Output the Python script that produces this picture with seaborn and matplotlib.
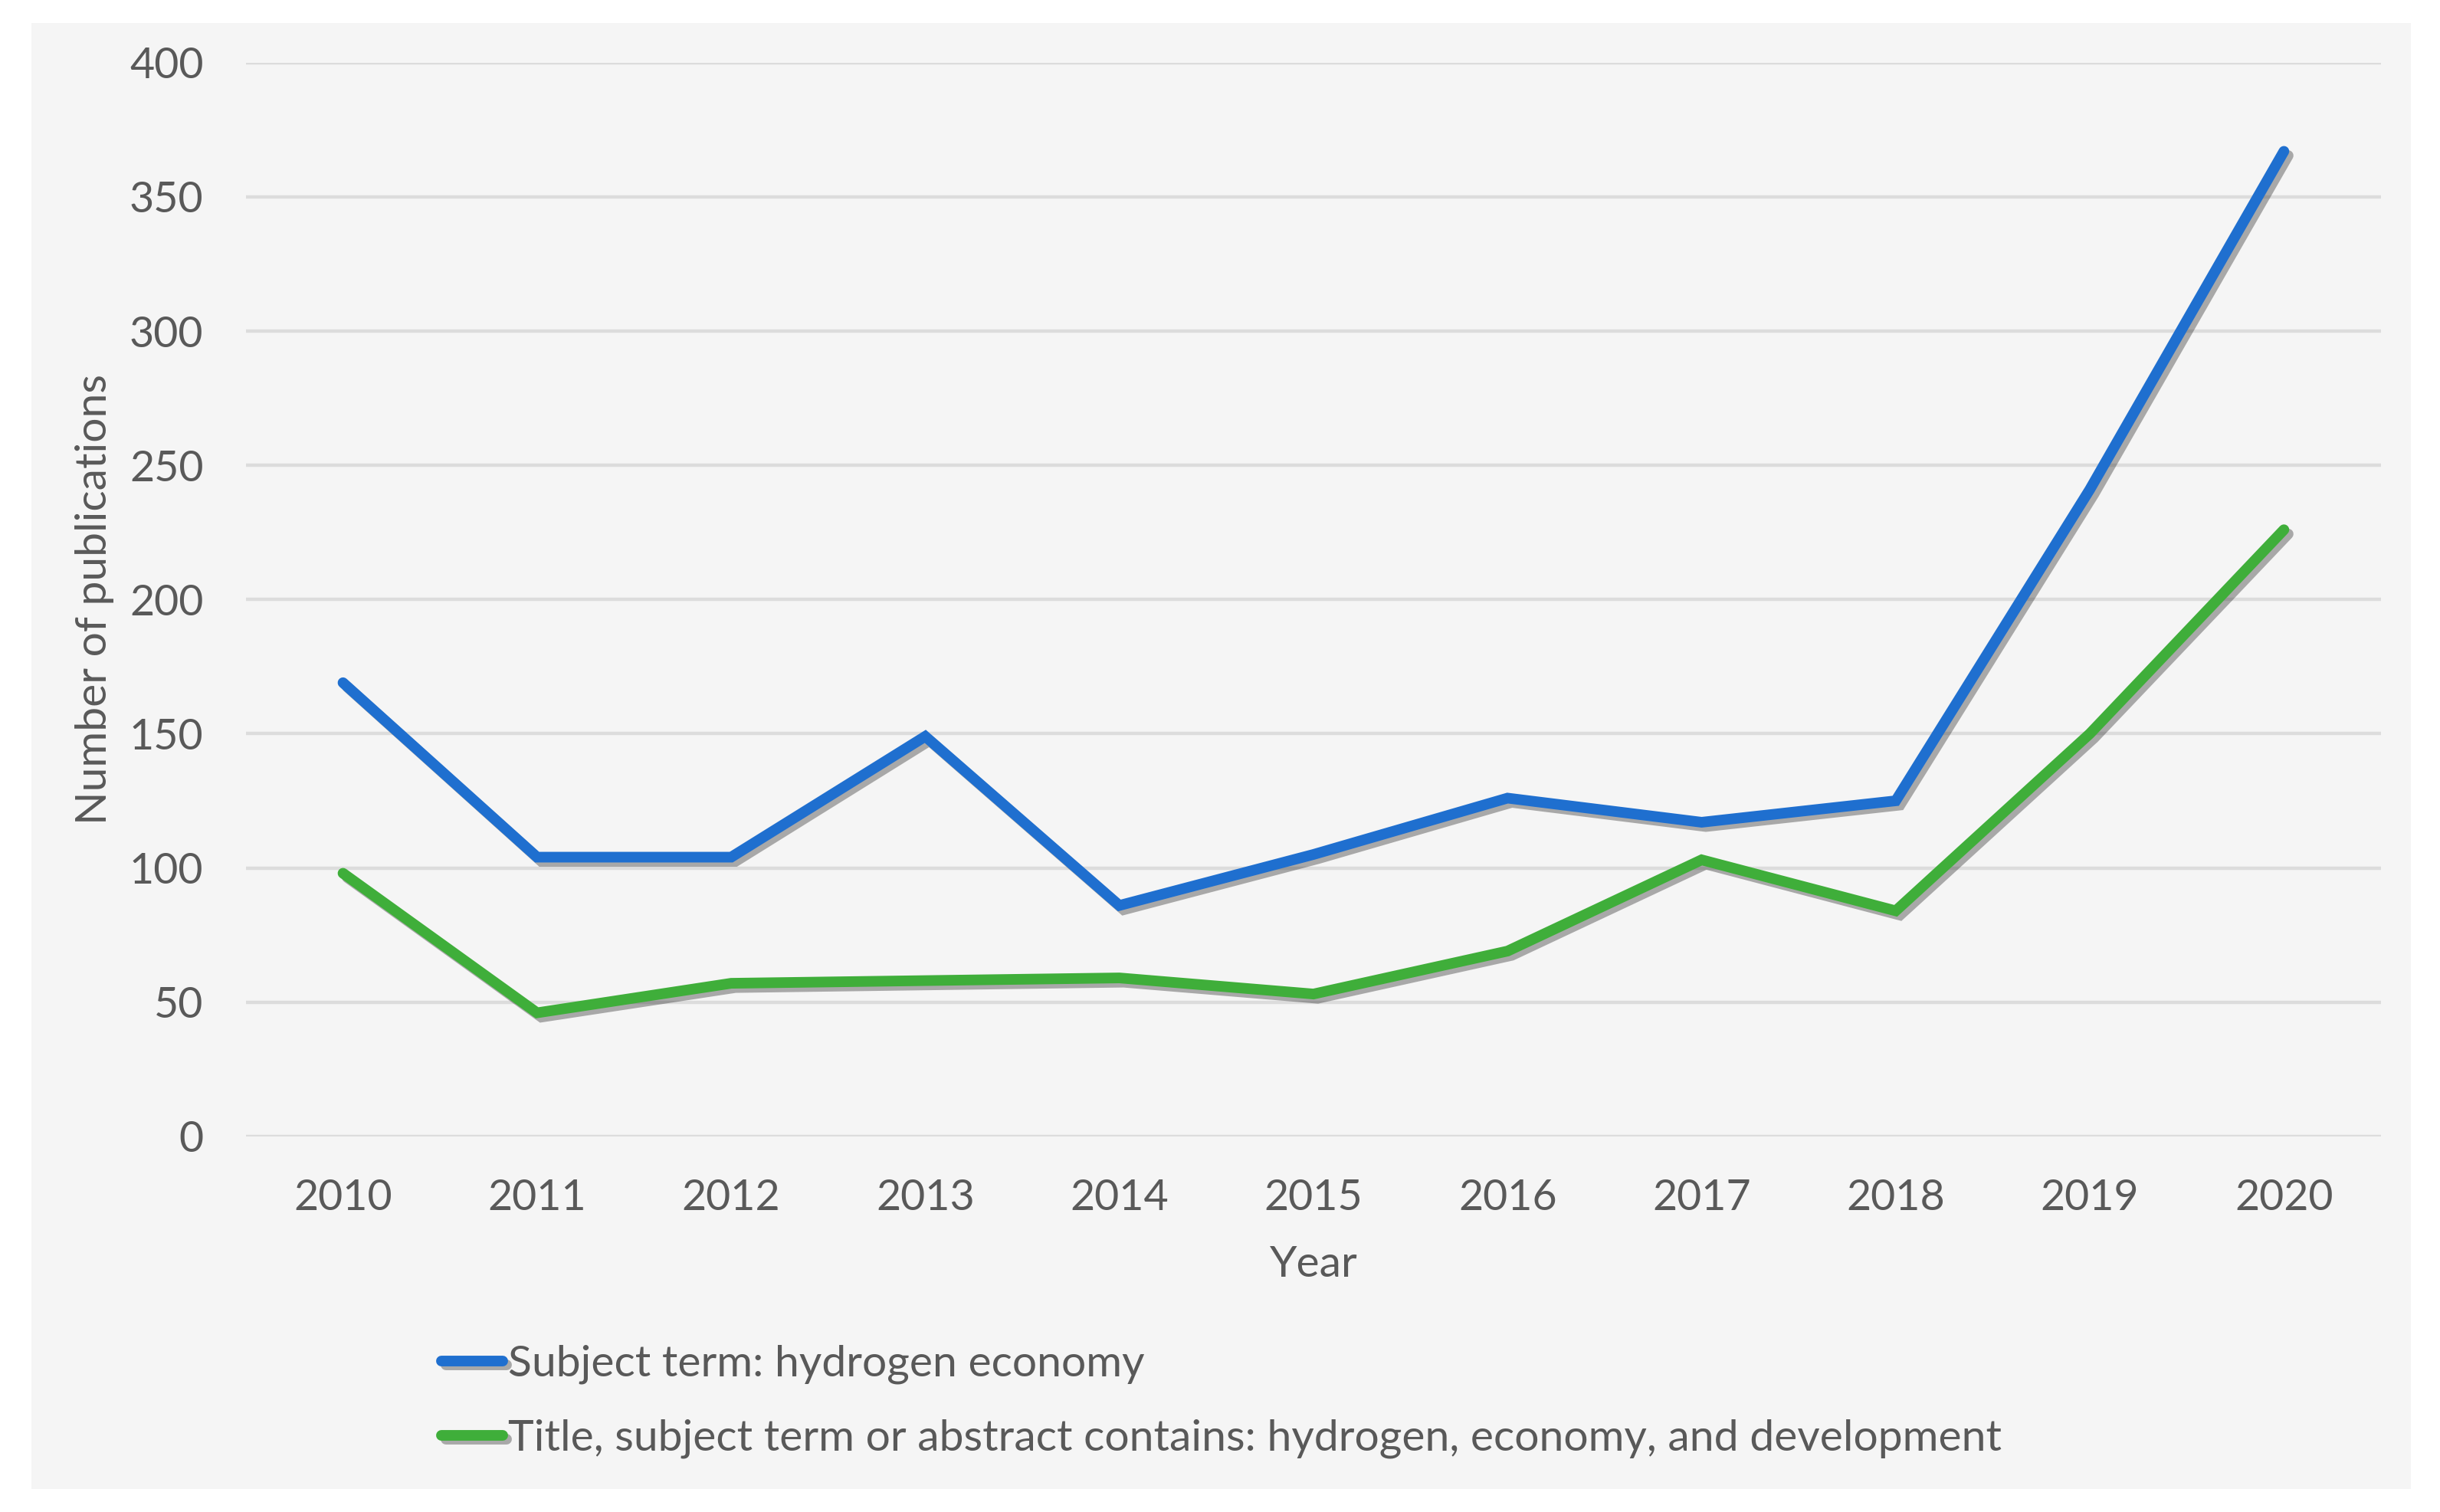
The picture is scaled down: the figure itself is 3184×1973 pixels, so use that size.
import matplotlib
matplotlib.use("Agg")
import matplotlib.pyplot as plt
import matplotlib.patheffects as pe
from matplotlib.patches import Rectangle
import pandas as pd
import seaborn as sns

YEARS = [2010, 2011, 2012, 2013, 2014, 2015, 2016, 2017, 2018, 2019, 2020]
SUBJECT_TERM = [169, 104, 104, 149, 86, 105, 126, 117, 125, 241, 367]
TITLE_ABSTRACT = [98, 46, 57, 58, 59, 53, 69, 103, 84, 150, 226]
SERIES_NAMES = [
    "Subject term: hydrogen economy",
    "Title, subject term or abstract contains: hydrogen, economy, and development",
]
COLORS = ["#1f6fcf", "#3fae3a"]
Y_TICKS = [0, 50, 100, 150, 200, 250, 300, 350, 400]

PANEL = "#f5f5f5"
TEXT = "#595959"

sns.set_theme(style="white")
plt.rcParams["font.family"] = ["Lato", "DejaVu Sans"]

df = pd.DataFrame({
    "Year": YEARS * 2,
    "count": SUBJECT_TERM + TITLE_ABSTRACT,
    "series": [SERIES_NAMES[0]] * len(YEARS) + [SERIES_NAMES[1]] * len(YEARS),
})

fig = plt.figure(figsize=(15.92, 9.865), dpi=200, facecolor="white")
fig.patches.append(Rectangle((0.013, 0.015), 0.975, 0.97, transform=fig.transFigure,
                             facecolor=PANEL, edgecolor="none", zorder=-10))
ax = fig.add_axes([0.1008, 0.2485, 0.875, 0.71])
ax.set_facecolor(PANEL)

shadow = [pe.SimpleLineShadow(offset=(2, -2), alpha=0.35), pe.Normal()]
sns.lineplot(data=df, x="Year", y="count", hue="series", palette=COLORS,
             linewidth=5, ax=ax, legend=False)
for line in ax.get_lines():
    line.set_solid_capstyle("round")
    line.set_solid_joinstyle("miter")
    line.set_path_effects(shadow)

ax.set_xlim(2009.5, 2020.5)
ax.set_ylim(0, 400)
ax.set_xticks(YEARS)
ax.set_xticklabels([str(y) for y in YEARS])
ax.set_yticks(Y_TICKS)
ax.yaxis.grid(True, color="#dcdcdc", linewidth=1.6)
ax.set_axisbelow(True)
for s in ax.spines.values():
    s.set_visible(False)
ax.tick_params(axis="both", length=0, labelsize=20, colors=TEXT)
ax.tick_params(axis="x", pad=20)
ax.tick_params(axis="y", pad=20)
ax.set_xlabel("Year", fontsize=20.5, color=TEXT, labelpad=13)
ax.set_ylabel("Number of publications", fontsize=20.5, color=TEXT, labelpad=7)

handles = [plt.Line2D([], [], color=c, linewidth=5, solid_capstyle="round",
                      path_effects=shadow) for c in COLORS]
fig.legend(handles, SERIES_NAMES, loc="center left", bbox_to_anchor=(0.172, 0.073),
           frameon=False, fontsize=20.5, labelcolor=TEXT, handlelength=1.4,
           handletextpad=0.12, labelspacing=0.8, borderpad=0)

fig.savefig("out.png", dpi=200, facecolor="white")
